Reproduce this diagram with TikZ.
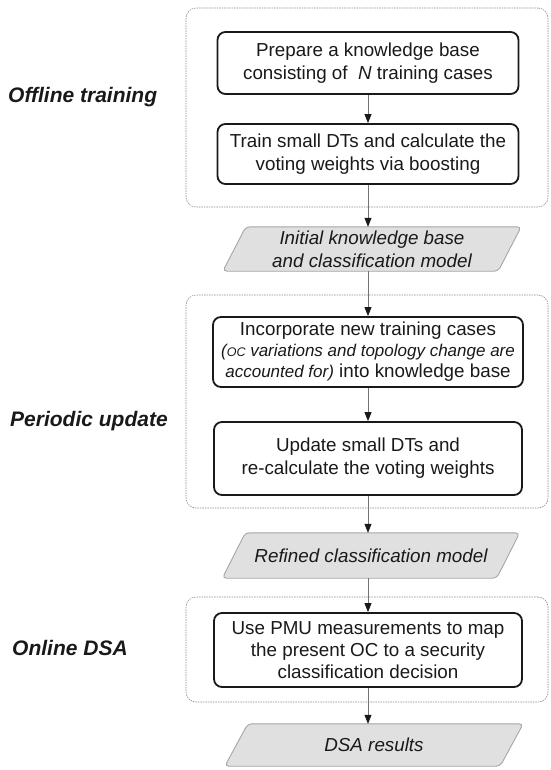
\documentclass[tikz,border=0pt]{standalone}
\usepackage{fontspec}
\setmainfont{Liberation Sans}
\usetikzlibrary{arrows.meta,backgrounds}

\newcommand{\notefont}{\fontsize{17}{20}\selectfont\itshape}
\newcommand{\smallcap}[1]{{\fontsize{12.5}{14}\selectfont #1}}
% slanted data symbol drawn behind a named node
\newcommand{\dataframe}[1]{%
  \begin{scope}[on background layer]
    \draw[dataline] ([xshift=-11.5pt]#1.south west) -- ([xshift=11.5pt]#1.north west)
      -- ([xshift=11.5pt]#1.north east) -- ([xshift=-11.5pt]#1.south east) -- cycle;
  \end{scope}}

\begin{document}
\begin{tikzpicture}[x=1pt,y=-1pt,
  stepbox/.style={draw=black!90, line width=1.8pt, rounded corners=8pt,
    align=center, inner sep=0pt, text=black!90,
    font=\fontsize{18.8}{23}\selectfont},
  datanode/.style={align=center, inner sep=0pt, text=black!90,
    font=\fontsize{18.8}{23}\selectfont\itshape},
  dataline/.style={draw=black!35, fill=black!12, line width=0.9pt,
    rounded corners=4pt},
  group/.style={draw=black!45, dash pattern=on 1.5pt off 1pt, line width=0.6pt,
    rounded corners=10pt, inner sep=0pt},
  phase/.style={anchor=west, inner sep=0pt, text=black!90,
    font=\fontsize{21}{24}\selectfont\bfseries\itshape},
  flow/.style={draw=black!55, line width=0.7pt,
    -{Triangle[length=9pt,width=7pt,black!90]}}
]
\useasboundingbox (0,0) rectangle (550,770);

% phase frames
\node[group, minimum width=362, minimum height=199] (g1) at (367,107.5) {};
\node[group, minimum width=362, minimum height=213] (g2) at (367,401.5) {};
\node[group, minimum width=362, minimum height=105] (g3) at (367,649.5) {};

% phase titles
\node[phase] (t1) at (8,97) {Offline training};
\node[phase] (t2) at (10,421) {Periodic update};
\node[phase] (t3) at (12,648) {Online DSA};

% process steps
\node[stepbox, minimum width=301, minimum height=62] (s1) at (368,63)
  {Prepare a knowledge base\\consisting of \ \textit{N} training cases};
\node[stepbox, minimum width=301, minimum height=60] (s2) at (368,154)
  {Train small DTs and calculate the\\voting weights via boosting};
\node[stepbox, minimum width=310, minimum height=70] (s3) at (368,352)
  {Incorporate new training cases\\[-2pt]
   {\notefont(\smallcap{OC} variations and topology change are}\\[-2pt]
   {\notefont accounted for)} into knowledge base};
\node[stepbox, minimum width=308, minimum height=73] (s4) at (368,458.5)
  {Update small DTs and\\re-calculate the voting weights};
\node[stepbox, minimum width=308, minimum height=74] (s5) at (368,650)
  {Use PMU measurements to map\\[-1pt]the present OC to a security\\[-1pt]classification decision};

% data produced by each phase
\node[datanode, minimum width=275, minimum height=44] (d1) at (372,249)
  {Initial knowledge base\\and classification model};
\node[datanode, minimum width=274, minimum height=45] (d2) at (371,555.5)
  {Refined classification model};
\node[datanode, minimum width=275, minimum height=42] (d3) at (374,745)
  {DSA results};
\dataframe{d1}
\dataframe{d2}
\dataframe{d3}

% flow
\draw[flow] (s1.south) -- (s2.north);
\draw[flow] (s2.south) -- (s2.south |- d1.north);
\draw[flow] (s3.north |- d1.south) -- (s3.north);
\draw[flow] (s3.south) -- (s4.north);
\draw[flow] (s4.south) -- (s4.south |- d2.north);
\draw[flow] (s5.north |- d2.south) -- (s5.north);
\draw[flow] (s5.south) -- (s5.south |- d3.north);
\end{tikzpicture}
\end{document}
